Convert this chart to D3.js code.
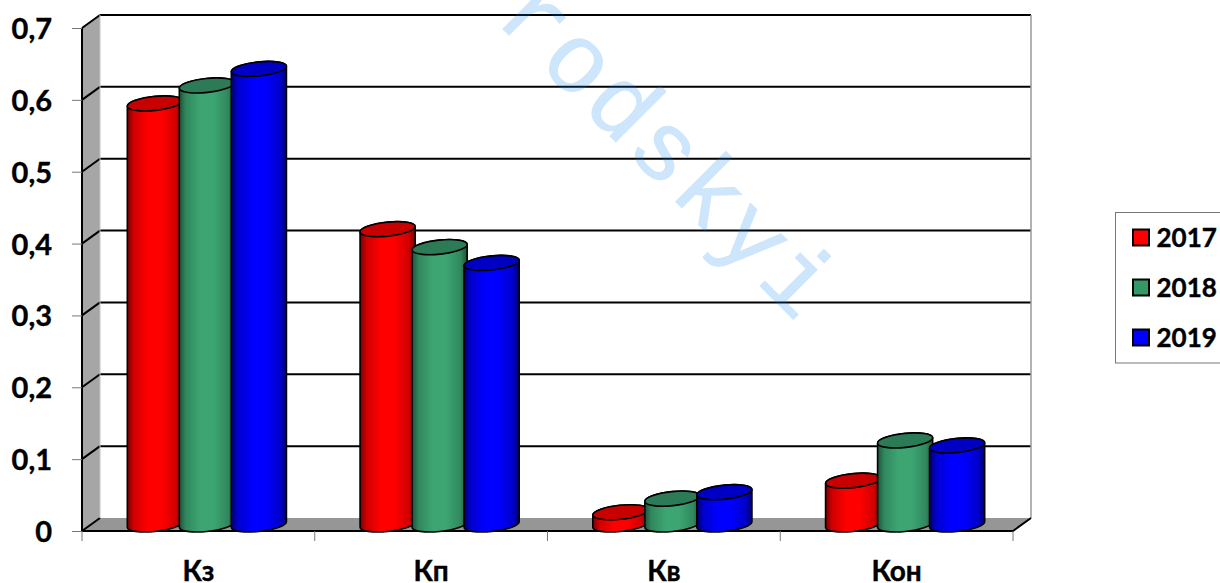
<!DOCTYPE html>
<html>
<head>
<meta charset="utf-8">
<script src="https://cdn.jsdelivr.net/npm/d3@7/dist/d3.min.js"></script>
<style>
html,body{margin:0;padding:0;background:#fff;overflow:hidden}
svg{display:block}
text{font-family:Lato,"Noto Sans",sans-serif;font-weight:700;fill:#000;stroke:#000;stroke-width:.4px}
</style>
</head>
<body>
<div id="chart"></div>
<script>
// Chart content
const categories = ["Кз", "Кп", "Кв", "Кон"];
const years = ["2017", "2018", "2019"];
const values2017 = [0.586, 0.411, 0.017, 0.061];
const values2018 = [0.611, 0.386, 0.036, 0.117];
const values2019 = [0.634, 0.364, 0.045, 0.110];
const yTicks = [0, 0.1, 0.2, 0.3, 0.4, 0.5, 0.6, 0.7];
const seriesValues = [values2017, values2018, values2019];

// Colours per series: body centre, body edge, top cap, legend swatch
const bodyColors = ["#ff0000", "#3ca572", "#0000ff"];
const edgeColors = ["#7a0000", "#1d5239", "#00006e"];
const capColors = ["#c80000", "#2d7a56", "#0000c4"];
const swatchColors = ["#ff0000", "#339966", "#0000ff"];

const width = 1220, height = 583;
const svg = d3.select("#chart").append("svg").attr("width", width).attr("height", height);

// Front plane of the 3D box and the depth offset to the back wall
const frontLeft = 82, frontRight = 1013, frontBottom = 531, frontTop = 28;
const depthX = 18, depthY = 13;

const y = d3.scaleLinear().domain([0, 0.7]).range([frontBottom, frontTop]);
const x = d3.scaleBand().domain(categories).range([frontLeft, frontRight]);
const xSeries = d3.scaleBand().domain(years).range([-78, 78]);

const defs = svg.append("defs");
years.forEach((yr, i) => {
  const g = defs.append("linearGradient").attr("id", "cyl" + yr);
  [[0, edgeColors[i]], [0.12, d3.interpolateRgb(edgeColors[i], bodyColors[i])(0.65)],
   [0.38, bodyColors[i]], [0.62, bodyColors[i]],
   [0.88, d3.interpolateRgb(edgeColors[i], bodyColors[i])(0.65)], [1, edgeColors[i]]]
    .forEach(([o, c]) => g.append("stop").attr("offset", o).attr("stop-color", c));
});

// Left wall and floor
const box = svg.append("g");
box.append("polygon")
  .attr("points", [[frontLeft, frontTop], [frontLeft + depthX, frontTop - depthY],
    [frontLeft + depthX, frontBottom - depthY], [frontLeft, frontBottom]].join(" "))
  .attr("fill", "#a6a6a6");
box.append("polygon")
  .attr("points", [[frontLeft, frontBottom], [frontLeft + depthX, frontBottom - depthY],
    [frontRight + depthX, frontBottom - depthY], [frontRight, frontBottom]].join(" "))
  .attr("fill", "#969696");

// Gridlines on the back wall, continuing down the left wall
yTicks.forEach(t => {
  const py = y(t);
  if (t > 0) {
    box.append("line").attr("x1", frontLeft + depthX).attr("x2", frontRight + depthX)
      .attr("y1", py - depthY).attr("y2", py - depthY)
      .attr("stroke", "#000").attr("stroke-width", 2);
  }
  box.append("line").attr("x1", frontLeft).attr("x2", frontLeft + depthX)
    .attr("y1", py).attr("y2", py - depthY)
    .attr("stroke", "#000").attr("stroke-width", 2);
});

// Right edge of the back wall, and box outline
box.append("line").attr("x1", frontRight + depthX).attr("x2", frontRight + depthX)
  .attr("y1", frontTop - depthY).attr("y2", frontBottom - depthY)
  .attr("stroke", "#9a9a9a").attr("stroke-width", 1.5);
box.append("line").attr("x1", frontLeft + depthX).attr("x2", frontLeft + depthX)
  .attr("y1", frontTop - depthY).attr("y2", frontBottom - depthY)
  .attr("stroke", "#c4c4c4").attr("stroke-width", 1);
box.append("line").attr("x1", frontLeft).attr("x2", frontLeft)
  .attr("y1", frontTop).attr("y2", frontBottom)
  .attr("stroke", "#000").attr("stroke-width", 2);
box.append("path")
  .attr("d", `M${frontLeft},${frontBottom}H${frontRight}L${frontRight + depthX},${frontBottom - depthY}`)
  .attr("fill", "none").attr("stroke", "#000").attr("stroke-width", 2);

// Axes
const yAxis = d3.axisLeft(y).tickValues(yTicks).tickSize(10).tickPadding(20)
  .tickFormat(d => d === 0 ? "0" : d3.format(".1f")(d).replace(".", ","));
const gy = svg.append("g").attr("transform", `translate(${frontLeft},0)`).call(yAxis);
const xAxis = d3.axisBottom(x).tickValues([]).tickSizeOuter(0);
const gx = svg.append("g").attr("transform", `translate(0,${frontBottom})`).call(xAxis);
gy.select(".domain").remove();
gx.select(".domain").remove();
gy.selectAll("line").attr("stroke", "#777");
gy.selectAll("text").attr("font-size", 29).attr("fill", "#000").attr("font-family", null)
  .attr("dy", "0.36em");

// Category ticks sit on band boundaries, labels on band centres
const tickPositions = categories.map(c => x(c)).concat([frontRight]);
gx.selectAll(".boundary").data(tickPositions).join("line").attr("class", "boundary")
  .attr("x1", d => d).attr("x2", d => d).attr("y1", 0).attr("y2", 10).attr("stroke", "#777");
gx.selectAll(".cat").data(categories).join("text").attr("class", "cat")
  .attr("x", d => x(d) + x.bandwidth() / 2).attr("y", 50)
  .attr("text-anchor", "middle").attr("font-size", 28).attr("fill", "#000")
  .attr("font-family", null)
  .text(d => d);

// Cylinders: drawn series by series so later ones overlap earlier ones
const rx = 27.7, ry = 7, tilt = -6;
const th = tilt * Math.PI / 180;
const tT = Math.atan(-(ry / rx) * Math.tan(th));
const edgeDx = rx * Math.cos(tT) * Math.cos(th) - ry * Math.sin(tT) * Math.sin(th);
const edgeDy = rx * Math.cos(tT) * Math.sin(th) + ry * Math.sin(tT) * Math.cos(th);

function cylinderPath(cx, top, base) {
  const lx = cx - edgeDx, rxp = cx + edgeDx;
  return `M${lx},${top - edgeDy}` +
    `L${lx},${base - edgeDy}` +
    `A${rx},${ry} ${tilt} 0 0 ${rxp},${base + edgeDy}` +
    `L${rxp},${top + edgeDy}` +
    `A${rx},${ry} ${tilt} 0 0 ${lx},${top - edgeDy}Z`;
}

const bars = svg.append("g");
years.forEach((yr, s) => {
  categories.forEach((c, k) => {
    const cx = x(c) + x.bandwidth() / 2 + depthX / 2 - 0.5 + xSeries(yr) + xSeries.bandwidth() / 2;
    const top = y(seriesValues[s][k]) - depthY / 2;
    const base = y(0) - depthY / 2;
    bars.append("path").attr("d", cylinderPath(cx, top, base))
      .attr("fill", `url(#cyl${yr})`).attr("stroke", "#000").attr("stroke-width", 1.6);
    bars.append("ellipse")
      .attr("transform", `translate(${cx},${top}) rotate(${tilt})`)
      .attr("rx", rx).attr("ry", ry)
      .attr("fill", capColors[s]).attr("stroke", "#000").attr("stroke-width", 1.6);
  });
});

// Legend box, open at the page edge
const legend = svg.append("g");
legend.append("rect").attr("x", 1115.5).attr("y", 212.5).attr("width", 120).attr("height", 150.5)
  .attr("fill", "#fff").attr("stroke", "#777").attr("stroke-width", 1);
const legendY = d3.scalePoint().domain(years).range([237.5, 337.5]);
years.forEach((yr, i) => {
  legend.append("rect").attr("x", 1133).attr("y", legendY(yr) - 8).attr("width", 16).attr("height", 16)
    .attr("fill", swatchColors[i]).attr("stroke", "#000").attr("stroke-width", 2);
  legend.append("text").attr("x", 1156.5).attr("y", legendY(yr)).attr("dy", "0.36em")
    .attr("font-size", 26).text(yr);
});

// Diagonal watermark across the plot
svg.append("text").attr("transform", "translate(493,19) rotate(45)")
  .attr("font-size", 98).attr("letter-spacing", 3)
  .style("font-family", "'Liberation Mono',monospace").style("font-weight", 400)
  .style("stroke", "#0a84f0").style("stroke-width", "1px")
  .style("fill", "#0a84f0").style("opacity", 0.2)
  .text("rodskyi");
</script>
</body>
</html>
